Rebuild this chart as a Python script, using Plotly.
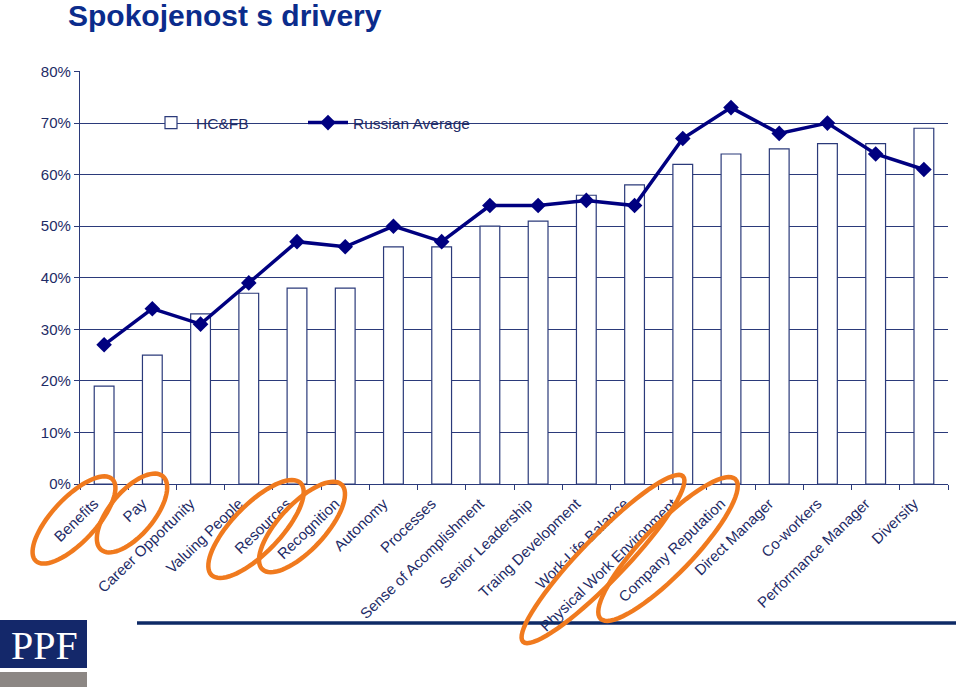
import numpy as np
import plotly.graph_objects as go

categories = ["Benefits", "Pay", "Career Opportunity", "Valuing People", "Resources",
              "Recognition", "Autonomy", "Processes", "Sense of Acomplishment",
              "Senior Leadership", "Traing Development", "Work-Life Balance",
              "Physical Work Environment", "Company Reputation", "Direct Manager",
              "Co-workers", "Performance Manager", "Diversity"]
hcfb = [0.19, 0.25, 0.33, 0.37, 0.38, 0.38, 0.46, 0.46, 0.50, 0.51, 0.56, 0.58,
        0.62, 0.64, 0.65, 0.66, 0.66, 0.69]
russian_avg = [0.27, 0.34, 0.31, 0.39, 0.47, 0.46, 0.50, 0.47, 0.54, 0.54, 0.55, 0.54,
               0.67, 0.73, 0.68, 0.70, 0.64, 0.61]
y_ticks = [0, 0.1, 0.2, 0.3, 0.4, 0.5, 0.6, 0.7, 0.8]

W, H = 960, 687
NAVY = "#2B3A7A"
TEXT = "#1E2B66"
FONT = "Arial, Liberation Sans, sans-serif"

def px(x):
    return x / W

def py(y):
    return 1 - y / H

fig = go.Figure()
fig.add_trace(go.Bar(
    x=categories, y=hcfb, name="HC&FB", width=0.41, legend="legend",
    marker=dict(color="white", line=dict(color=NAVY, width=1.2)),
))
fig.add_trace(go.Scatter(
    x=categories, y=russian_avg, name="Russian Average", mode="lines+markers",
    legend="legend2",
    line=dict(color="#000080", width=3.5),
    marker=dict(symbol="diamond", size=12, color="#000080"),
))

shapes = []
# legend background (hides the gridline behind the legend)
shapes.append(dict(type="rect", xref="paper", yref="paper", x0=px(122), x1=px(502),
                   y0=py(136), y1=py(110), fillcolor="white", line=dict(width=0),
                   layer="between"))
# PPF logo
shapes.append(dict(type="rect", xref="paper", yref="paper", x0=px(0), x1=px(87),
                   y0=py(668), y1=py(620), fillcolor="#14286A", line=dict(width=0), layer="above"))
shapes.append(dict(type="rect", xref="paper", yref="paper", x0=px(0), x1=px(87),
                   y0=py(687), y1=py(672), fillcolor="#8C8784", line=dict(width=0), layer="above"))
# horizontal navy rule
shapes.append(dict(type="line", xref="paper", yref="paper", x0=px(137), x1=px(956),
                   y0=py(623), y1=py(623), line=dict(color="#0E2A66", width=3.5), layer="above"))

# orange highlight ellipses (cx, cy, semi-major, semi-minor, angle deg)
ellipses = [(74, 520, 56, 22, 47), (132, 513, 48, 22, 50), (256, 529, 64, 24, 46),
            (302, 527, 58, 23, 47), (603, 559, 115, 22, 46), (668, 549, 97, 25, 46)]
t = np.linspace(0, 2 * np.pi, 73)
for cx, cy, a, b, ang in ellipses:
    th = np.deg2rad(-ang)
    xs = cx + a * np.cos(t) * np.cos(th) - b * np.sin(t) * np.sin(th)
    ys = cy + a * np.cos(t) * np.sin(th) + b * np.sin(t) * np.cos(th)
    path = "M " + " L ".join(f"{px(xx):.5f},{py(yy):.5f}" for xx, yy in zip(xs, ys)) + " Z"
    shapes.append(dict(type="path", xref="paper", yref="paper", path=path,
                       line=dict(color="#F07A1E", width=4.5), layer="above"))

annotations = [
    dict(text="<b>Spokojenost s drivery</b>", xref="paper", yref="paper",
         x=px(66), y=py(16), xanchor="left", yanchor="middle", showarrow=False,
         font=dict(family=FONT, size=30, color="#0B2C8C")),
    dict(text="PPF", xref="paper", yref="paper", x=px(44), y=py(645),
         xanchor="center", yanchor="middle", showarrow=False,
         font=dict(family="Liberation Serif, Times New Roman, serif", size=40, color="white")),
]

legend_common = dict(orientation="h", yanchor="middle", y=py(123), xanchor="left",
                     bgcolor="rgba(0,0,0,0)", itemwidth=40,
                     font=dict(family=FONT, size=15.5, color=TEXT))

fig.update_layout(
    template="none",
    width=W, height=H,
    margin=dict(l=0, r=0, t=0, b=0),
    paper_bgcolor="white", plot_bgcolor="white",
    showlegend=True,
    legend=dict(x=px(146), **legend_common),
    legend2=dict(x=px(303), **legend_common),
    xaxis=dict(domain=[px(80), px(948)], range=[-0.5, 17.5], type="category",
               showline=True, linecolor=NAVY, linewidth=1.2,
               ticks="outside", tickson="boundaries", ticklen=5, tickcolor=NAVY,
               tickangle=-44, showgrid=False, automargin=False,
               ticklabelshift=-10, ticklabelstandoff=4,
               tickfont=dict(family=FONT, size=15, color=TEXT)),
    yaxis=dict(domain=[py(484), py(71)], range=[0, 0.801], tickvals=y_ticks,
               tickformat=".0%", showline=True, linecolor=NAVY, linewidth=1.2,
               ticks="outside", ticklen=5, tickcolor=NAVY,
               showgrid=True, gridcolor=NAVY, gridwidth=1.2, zeroline=False,
               automargin=False, tickfont=dict(family=FONT, size=15, color=TEXT)),
    shapes=shapes,
    annotations=annotations,
    bargap=0.59,
)

fig.write_html("out.html", config={"displayModeBar": False},
               post_script="document.body.style.margin='0';")
